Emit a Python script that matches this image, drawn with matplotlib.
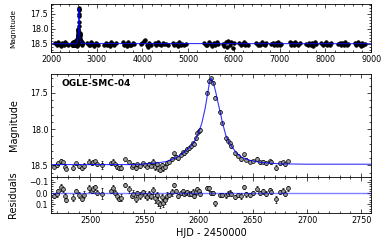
import numpy as np
import matplotlib.pyplot as plt
from matplotlib.ticker import MultipleLocator

# OGLE-SMC-04 around the event (HJD - 2450000, I mag, error)
hjd = [2466.9, 2469.3, 2470.9, 2473.0, 2474.9, 2477.0, 2477.9, 2484.7, 2487.1, 2490.2,
       2492.3, 2494.5, 2499.4, 2501.5, 2503.1, 2504.6, 2506.1, 2511.4, 2519.0, 2520.9,
       2523.0, 2524.5, 2526.7, 2528.5, 2532.2, 2536.2, 2538.3, 2539.9, 2542.3, 2543.6,
       2546.0, 2548.5, 2550.6, 2552.1, 2554.3, 2555.8, 2558.3, 2559.8, 2561.3, 2562.9,
       2564.4, 2565.9, 2567.5, 2569.0, 2570.5, 2573.0, 2575.1, 2577.3, 2579.1, 2581.3,
       2583.4, 2585.3, 2586.5, 2588.3, 2589.6, 2591.4, 2592.9, 2594.5, 2596.0, 2597.5,
       2598.8, 2600.0, 2601.2, 2608.0, 2609.8, 2611.3, 2613.5, 2615.6, 2619.6, 2621.8,
       2625.7, 2627.3, 2628.8, 2630.3, 2633.4, 2636.5, 2639.5, 2641.7, 2644.1, 2647.2,
       2650.3, 2654.0, 2656.4, 2659.5, 2662.6, 2665.6, 2667.2, 2671.8, 2674.8, 2677.9,
       2679.4, 2682.5]
mag = [18.518, 18.495, 18.472, 18.440, 18.458, 18.518, 18.551, 18.532, 18.472, 18.509,
       18.541, 18.504, 18.449, 18.472, 18.458, 18.440, 18.486, 18.495, 18.472, 18.449,
       18.486, 18.518, 18.541, 18.532, 18.416, 18.458, 18.518, 18.495, 18.541, 18.486,
       18.509, 18.472, 18.495, 18.518, 18.486, 18.504, 18.449, 18.518, 18.486, 18.541,
       18.564, 18.495, 18.541, 18.518, 18.472, 18.449, 18.412, 18.333, 18.379, 18.402,
       18.356, 18.319, 18.333, 18.300, 18.273, 18.263, 18.240, 18.194, 18.208, 18.125,
       18.055, 18.032, 18.009, 17.500, 17.338, 17.300, 17.361, 17.569, 17.763, 17.916,
       18.125, 18.162, 18.194, 18.240, 18.333, 18.365, 18.412, 18.347, 18.426, 18.449,
       18.440, 18.412, 18.458, 18.449, 18.472, 18.440, 18.458, 18.532, 18.472, 18.458,
       18.486, 18.440]
err = [0.02, 0.03, 0.02, 0.03, 0.02, 0.03, 0.02, 0.03, 0.02, 0.03,
       0.02, 0.03, 0.03, 0.02, 0.03, 0.02, 0.02, 0.05, 0.02, 0.03,
       0.02, 0.03, 0.02, 0.03, 0.02, 0.03, 0.02, 0.03, 0.03, 0.02,
       0.03, 0.02, 0.03, 0.02, 0.03, 0.02, 0.03, 0.04, 0.03, 0.04,
       0.03, 0.03, 0.04, 0.03, 0.03, 0.02, 0.03, 0.02, 0.02, 0.02,
       0.02, 0.02, 0.02, 0.02, 0.02, 0.02, 0.02, 0.02, 0.02, 0.02,
       0.02, 0.02, 0.02, 0.02, 0.02, 0.02, 0.02, 0.02, 0.02, 0.02,
       0.02, 0.02, 0.02, 0.02, 0.02, 0.02, 0.03, 0.02, 0.02, 0.02,
       0.02, 0.02, 0.02, 0.02, 0.02, 0.02, 0.02, 0.03, 0.02, 0.02,
       0.02, 0.02]

# the other survey seasons (top panel only)
base_hjd = [2095, 2125, 2150, 2180, 2210, 2240, 2280, 2310, 2340, 2365,
            2795, 2825, 2855, 2885, 2915, 2945, 2975, 3005, 3030,
            3165, 3195, 3225, 3255, 3290, 3320, 3350, 3385, 3420,
            3570, 3600, 3630, 3665, 3695, 3725, 3760, 3790, 3825,
            3970, 4000, 4030, 4060, 4090, 4120, 4150, 4180,
            4265, 4300, 4335, 4370, 4405, 4440, 4475, 4510, 4550,
            4665, 4700, 4735, 4770, 4805, 4840, 4875, 4910, 4950,
            5355, 5390, 5420, 5455, 5490, 5520, 5555, 5590, 5620, 5650,
            5760, 5790, 5820, 5850, 5880, 5910, 5940, 5975, 6010,
            6120, 6150, 6180, 6210, 6245, 6275, 6305,
            6490, 6520, 6550, 6580, 6615, 6645, 6675, 6705,
            6820, 6850, 6880, 6910, 6945, 6975, 7005, 7035,
            7220, 7250, 7280, 7310, 7345, 7375, 7405, 7435,
            7585, 7615, 7645, 7675, 7710, 7740, 7770, 7800,
            7915, 7945, 7975, 8005, 8040, 8070, 8100, 8130,
            8280, 8310, 8340, 8370, 8405, 8435, 8465, 8495,
            8645, 8675, 8705, 8735, 8770, 8800, 8830, 8860]
base_mag = [18.48, 18.53, 18.45, 18.51, 18.56, 18.47, 18.52, 18.44, 18.50, 18.55,
            18.47, 18.52, 18.55, 18.44, 18.50, 18.58, 18.46, 18.51, 18.53,
            18.52, 18.46, 18.55, 18.49, 18.57, 18.45, 18.51, 18.54, 18.48,
            18.45, 18.53, 18.50, 18.57, 18.44, 18.52, 18.55, 18.47, 18.51,
            18.50, 18.46, 18.41, 18.38, 18.53, 18.59, 18.47, 18.52,
            18.48, 18.52, 18.45, 18.50, 18.54, 18.47, 18.51, 18.49, 18.53,
            18.47, 18.53, 18.50, 18.56, 18.45, 18.52, 18.49, 18.55, 18.50,
            18.46, 18.52, 18.55, 18.44, 18.50, 18.57, 18.48, 18.53, 18.45, 18.51,
            18.50, 18.57, 18.44, 18.60, 18.39, 18.55, 18.42, 18.62, 18.48,
            18.47, 18.53, 18.50, 18.45, 18.55, 18.49, 18.52,
            18.46, 18.52, 18.49, 18.55, 18.44, 18.51, 18.53, 18.47,
            18.50, 18.46, 18.54, 18.48, 18.52, 18.45, 18.55, 18.49,
            18.45, 18.52, 18.48, 18.55, 18.44, 18.50, 18.53, 18.47,
            18.49, 18.54, 18.46, 18.52, 18.48, 18.56, 18.45, 18.51,
            18.47, 18.53, 18.50, 18.45, 18.55, 18.49, 18.52, 18.46,
            18.50, 18.46, 18.54, 18.48, 18.52, 18.45, 18.55, 18.49,
            18.48, 18.53, 18.45, 18.51, 18.56, 18.47, 18.52, 18.50]
base_err = 0.03

# fitted model
fit_hjd = [2000, 2540, 2560, 2570, 2580, 2586, 2592, 2596, 2600, 2603, 2606,
           2608.5, 2610, 2611.3, 2612.5, 2614, 2616, 2618, 2620, 2622, 2625,
           2628, 2631, 2635, 2640, 2647, 2657, 2675, 2700, 9000]
fit_mag = [18.49, 18.49, 18.47, 18.45, 18.39, 18.33, 18.25, 18.18, 18.05, 17.92, 17.72,
           17.50, 17.36, 17.30, 17.32, 17.38, 17.50, 17.64, 17.77, 17.91, 18.08,
           18.18, 18.25, 18.33, 18.39, 18.43, 18.46, 18.48, 18.485, 18.49]

hjd = np.array(hjd)
mag = np.array(mag)
err = np.array(err)
resid = mag - np.interp(hjd, fit_hjd, fit_mag)

all_hjd = np.concatenate([base_hjd, hjd])
all_mag = np.concatenate([base_mag, mag])

fig = plt.figure(figsize=(3.89, 2.41), dpi=100)
ax0 = fig.add_axes([0.131, 0.784, 0.823, 0.199])
ax1 = fig.add_axes([0.131, 0.266, 0.823, 0.427])
ax2 = fig.add_axes([0.131, 0.116, 0.823, 0.150], sharex=ax1)

pts = dict(fmt='o', mec='k', mew=0.5, ecolor='k', elinewidth=0.5, capsize=1, capthick=0.5)

# full light curve
ax0.errorbar(all_hjd, all_mag, yerr=base_err, ms=2.6, mfc='k', zorder=2, **pts)
ax0.plot(fit_hjd, fit_mag, color='blue', lw=0.8, alpha=0.8, zorder=3)
ax0.set_xlim(2000, 9000)
ax0.set_ylim(18.77, 17.17)
ax0.xaxis.set_major_locator(MultipleLocator(1000))
ax0.xaxis.set_minor_locator(MultipleLocator(200))
ax0.yaxis.set_major_locator(MultipleLocator(0.5))
ax0.yaxis.set_minor_locator(MultipleLocator(0.1))
ax0.set_ylabel('Magnitude', fontsize=5.3, labelpad=10)

# zoom on the event
ax1.errorbar(hjd, mag, yerr=err, ms=2.8, mfc='0.6', zorder=2, **pts)
ax1.plot(fit_hjd, fit_mag, color='blue', lw=0.8, alpha=0.8, zorder=3)
ax1.set_xlim(2464, 2759)
ax1.set_ylim(18.66, 17.24)
ax1.yaxis.set_major_locator(MultipleLocator(0.5))
ax1.yaxis.set_minor_locator(MultipleLocator(0.1))
ax1.set_ylabel('Magnitude', fontsize=7, labelpad=8)
ax1.text(0.034, 0.955, 'OGLE-SMC-04', transform=ax1.transAxes, fontsize=6.5,
         fontweight='bold', va='top', ha='left')
ax1.tick_params(labelbottom=False)

# residuals
ax2.errorbar(hjd, resid, yerr=err, ms=2.8, mfc='0.6', zorder=2, **pts)
ax2.axhline(0, color='blue', lw=1, alpha=0.5, zorder=3)
ax2.set_ylim(0.18, -0.145)
ax2.xaxis.set_major_locator(MultipleLocator(50))
ax2.xaxis.set_minor_locator(MultipleLocator(10))
ax2.yaxis.set_major_locator(MultipleLocator(0.1))
ax2.yaxis.set_minor_locator(MultipleLocator(0.02))
ax2.set_ylabel('Residuals', fontsize=7, labelpad=8)
ax2.set_xlabel('HJD - 2450000', fontsize=7, labelpad=2)

for ax in (ax0, ax1, ax2):
    ax.tick_params(which='both', direction='in', top=True, right=True,
                   labelsize=5.8, width=0.5, pad=2)
    ax.tick_params(which='major', length=3)
    ax.tick_params(which='minor', length=1.5)
    for s in ax.spines.values():
        s.set_linewidth(0.6)

fig.align_ylabels([ax1, ax2])
fig.savefig('out.png', dpi=100)
